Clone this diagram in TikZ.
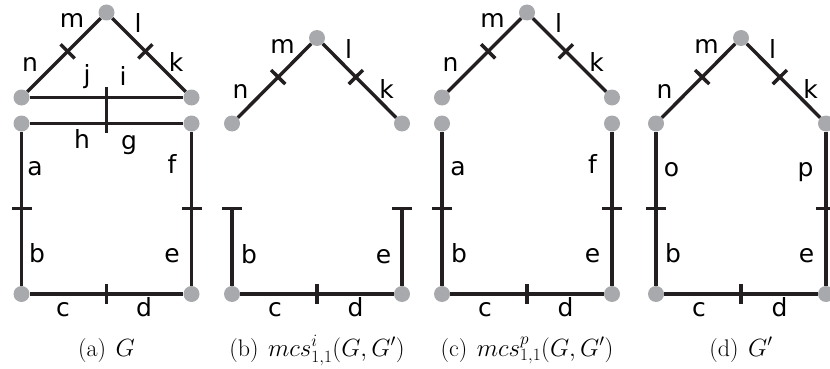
\documentclass[tikz,border=0pt]{standalone}
\usepackage{fontspec}
\newfontfamily\lblfont{DejaVu Sans}
\newcommand\captfont{\fontsize{24}{28}\selectfont}
\definecolor{edgegray}{HTML}{231F20}
\definecolor{vertexgray}{HTML}{A7A9AC}
\begin{document}
\begin{tikzpicture}[
    x=1pt, y=-1pt,
    vertex/.style={circle, fill=vertexgray, inner sep=0pt, minimum size=16pt},
    link/.style={line width=3.4pt, draw=edgegray},
    notch/.style={sloped, fill=edgegray, inner sep=0pt, minimum width=3.4pt, minimum height=20pt},
    lbl/.style={anchor=base, font=\lblfont\fontsize{25}{30}\selectfont, inner sep=0pt},
    capt/.style={anchor=base, font=\captfont, inner sep=0pt}
]
\useasboundingbox (0,0) rectangle (830,369);

% (a) G
\begin{scope}[shift={(21.5,0)}]
\node[vertex] (aT) at (85,12.5) {};
\node[vertex] (aUL) at (0,97.5) {};
\node[vertex] (aUR) at (170,97.5) {};
\node[vertex] (aLL) at (0,123.5) {};
\node[vertex] (aLR) at (170,123.5) {};
\node[vertex] (aBL) at (0,294) {};
\node[vertex] (aBR) at (170,294) {};

\draw[link] (aUL) -- node[notch, pos=0.55] (aTk1) {} (aT);
\draw[link] (aT) -- node[notch, pos=0.45] (aTk2) {} (aUR);
\draw[link] (aUL) -- (aUR);
\draw[link] (aLL) -- (aLR);
\draw[link] (aLL) -- node[notch, midway] (aTk3) {} (aBL);
\draw[link] (aLR) -- node[notch, midway] (aTk4) {} (aBR);
\draw[link] (aBL) -- node[notch, midway] (aTk5) {} (aBR);
\coordinate (aBarTop) at (85,87);
\coordinate (aBarBot) at (85,133);
\draw[link] (aBarTop) -- (aBarBot);

\node[lbl] (am) at (50.5,28) {m};
\node[lbl] (al) at (116.5,33) {l};
\node[lbl] (an) at (8.5,72) {n};
\node[lbl] (ak) at (154.5,72) {k};
\node[lbl] (aj) at (65.5,84) {j};
\node[lbl] (ai) at (101.5,85) {i};
\node[lbl] (ah) at (60.5,148) {h};
\node[lbl] (ag) at (107.5,149) {g};
\node[lbl] (aa) at (13.5,175) {a};
\node[lbl] (af) at (150.5,173) {f};
\node[lbl] (ab) at (15.5,262) {b};
\node[lbl] (ae) at (150.5,262) {e};
\node[lbl] (ac) at (41.5,316) {c};
\node[lbl] (ad) at (122.5,316) {d};

\node[capt] (acap) at (85,356) {(a)\hspace{0.4em}$G$};
\end{scope}

% (b) mcs^i
\begin{scope}[shift={(232,0)}]
\node[vertex] (bT) at (85,38) {};
\node[vertex] (bUL) at (0,123.5) {};
\node[vertex] (bUR) at (170,123.5) {};
\node[vertex] (bBL) at (0,294) {};
\node[vertex] (bBR) at (170,294) {};
\coordinate (bLtop) at (0,208.75);
\coordinate (bRtop) at (170,208.75);

\draw[link] (bUL) -- node[notch, pos=0.55] (bTk1) {} (bT);
\draw[link] (bT) -- node[notch, pos=0.45] (bTk2) {} (bUR);
\draw[link] (bBL) -- node[notch, pos=1] (bCap1) {} (bLtop);
\draw[link] (bBR) -- node[notch, pos=1] (bCap2) {} (bRtop);
\draw[link] (bBL) -- node[notch, midway] (bTk3) {} (bBR);

\node[lbl] (bm) at (50.5,54) {m};
\node[lbl] (bl) at (116.5,59) {l};
\node[lbl] (bn) at (8.5,98) {n};
\node[lbl] (bk) at (154.5,98) {k};
\node[lbl] (bb) at (17,263) {b};
\node[lbl] (be) at (151.5,263) {e};
\node[lbl] (bc) at (43,316) {c};
\node[lbl] (bd) at (123.5,316) {d};

\node[capt] (bcap) at (85,356) {(b)\hspace{0.4em}$mcs^{i}_{1,1}(G,G')$};
\end{scope}

% (c) mcs^p
\begin{scope}[shift={(442,0)}]
\node[vertex] (cT) at (85,12.5) {};
\node[vertex] (cUL) at (0,97.5) {};
\node[vertex] (cUR) at (170,97.5) {};
\node[vertex] (cLL) at (0,123.5) {};
\node[vertex] (cLR) at (170,123.5) {};
\node[vertex] (cBL) at (0,294) {};
\node[vertex] (cBR) at (170,294) {};

\draw[link] (cUL) -- node[notch, pos=0.55] (cTk1) {} (cT);
\draw[link] (cT) -- node[notch, pos=0.45] (cTk2) {} (cUR);
\draw[link] (cLL) -- node[notch, midway] (cTk3) {} (cBL);
\draw[link] (cLR) -- node[notch, midway] (cTk4) {} (cBR);
\draw[link] (cBL) -- node[notch, midway] (cTk5) {} (cBR);

\node[lbl] (cm) at (50.5,28) {m};
\node[lbl] (cl) at (116.5,33) {l};
\node[lbl] (cn) at (8.5,72) {n};
\node[lbl] (ck) at (154.5,72) {k};
\node[lbl] (ca) at (16,175) {a};
\node[lbl] (cf) at (150.5,173) {f};
\node[lbl] (cb) at (17,262) {b};
\node[lbl] (ce) at (150.5,262) {e};
\node[lbl] (cc) at (43,316) {c};
\node[lbl] (cd) at (123.5,316) {d};

\node[capt] (ccap) at (85,356) {(c)\hspace{0.4em}$mcs^{p}_{1,1}(G,G')$};
\end{scope}

% (d) G'
\begin{scope}[shift={(656,0)}]
\node[vertex] (dT) at (85,38) {};
\node[vertex] (dUL) at (0,123.5) {};
\node[vertex] (dUR) at (170,123.5) {};
\node[vertex] (dBL) at (0,294) {};
\node[vertex] (dBR) at (170,294) {};

\draw[link] (dUL) -- node[notch, pos=0.55] (dTk1) {} (dT);
\draw[link] (dT) -- node[notch, pos=0.45] (dTk2) {} (dUR);
\draw[link] (dUL) -- node[notch, midway] (dTk3) {} (dBL);
\draw[link] (dUR) -- node[notch, midway] (dTk4) {} (dBR);
\draw[link] (dBL) -- node[notch, midway] (dTk5) {} (dBR);

\node[lbl] (dm) at (50.5,54) {m};
\node[lbl] (dl) at (116.5,59) {l};
\node[lbl] (dn) at (8.5,98) {n};
\node[lbl] (dk) at (154.5,98) {k};
\node[lbl] (do) at (15.5,176) {o};
\node[lbl] (dp) at (149.5,176) {p};
\node[lbl] (db) at (17,262) {b};
\node[lbl] (de) at (150.5,262) {e};
\node[lbl] (dc) at (43,316) {c};
\node[lbl] (dd) at (123.5,316) {d};

\node[capt] (dcap) at (85,356) {(d)\hspace{0.4em}$G'$};
\end{scope}

\end{tikzpicture}
\end{document}
